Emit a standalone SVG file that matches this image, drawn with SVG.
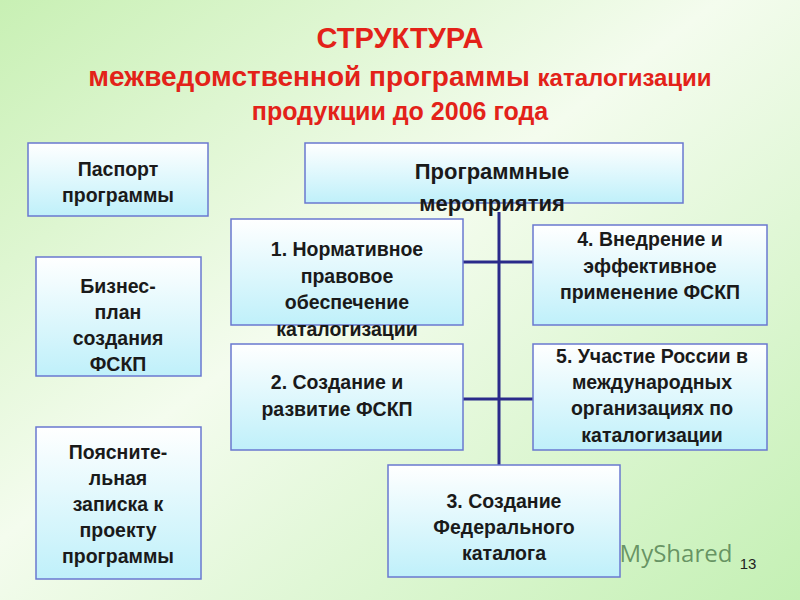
<svg xmlns="http://www.w3.org/2000/svg" width="800" height="600" viewBox="0 0 800 600">
<defs>
<linearGradient id="bg" x1="0" y1="0" x2="1" y2="1"><stop offset="0" stop-color="#c8f0b4"/><stop offset="0.45" stop-color="#f4fcee"/><stop offset="1" stop-color="#c4f0b4"/></linearGradient>
<linearGradient id="bx" x1="0" y1="0" x2="0" y2="1"><stop offset="0" stop-color="#ffffff"/><stop offset="1" stop-color="#bff0fa"/></linearGradient>
</defs>
<style>
.b{fill:url(#bx);stroke:#6a78d0;stroke-width:1.5}
.t{font-family:"Liberation Sans",Arial,sans-serif;font-weight:bold;font-size:19.5px;fill:#1a1a1a;text-anchor:middle}
.big{font-size:22px}
.h{font-family:"Liberation Sans",Arial,sans-serif;font-weight:bold;fill:#e32219;text-anchor:middle}
.c{stroke:#2a2a8a;stroke-width:3;fill:none}
</style>
<rect width="800" height="600" fill="url(#bg)"/>
<text class="h" x="400" y="48" font-size="29">СТРУКТУРА</text>
<text class="h" x="400" y="86" font-size="28">межведомственной программы <tspan font-size="24">каталогизации</tspan></text>
<text class="h" x="400" y="120" font-size="25">продукции до 2006 года</text>
<g id="connectors">
<line class="c" x1="499" y1="212" x2="499" y2="466"/>
<line class="c" x1="463" y1="262" x2="533" y2="262"/>
<line class="c" x1="463" y1="399" x2="533" y2="399"/>
</g>
<g id="pasport"><rect class="b" x="28" y="143" width="180" height="73"/><text class="t" x="118" y="176">Паспорт</text><text class="t" x="118" y="202">программы</text></g>
<g id="biznes"><rect class="b" x="36" y="257" width="165" height="119"/><text class="t" x="118" y="293">Бизнес-</text><text class="t" x="118" y="319">план</text><text class="t" x="118" y="345">создания</text><text class="t" x="118" y="371">ФСКП</text></g>
<g id="poyasn"><rect class="b" x="36" y="427" width="165" height="152"/><text class="t" x="118" y="459">Поясните-</text><text class="t" x="118" y="485">льная</text><text class="t" x="118" y="511">записка к</text><text class="t" x="118" y="537">проекту</text><text class="t" x="118" y="563">программы</text></g>
<g id="meropr"><rect class="b" x="305" y="143" width="378" height="60"/><text class="t big" x="492" y="179">Программные</text><text class="t big" x="492" y="211">мероприятия</text></g>
<g id="n1"><rect class="b" x="231" y="219" width="232" height="106"/><text class="t" x="347" y="256">1. Нормативное</text><text class="t" x="347" y="283">правовое</text><text class="t" x="347" y="309">обеспечение</text><text class="t" x="347" y="336">каталогизации</text></g>
<g id="n4"><rect class="b" x="533" y="225" width="234" height="100"/><text class="t" x="650" y="246">4. Внедрение и</text><text class="t" x="650" y="273">эффективное</text><text class="t" x="650" y="299">применение ФСКП</text></g>
<g id="n2"><rect class="b" x="231" y="344" width="232" height="106"/><text class="t" x="337" y="389">2. Создание и</text><text class="t" x="337" y="416">развитие ФСКП</text></g>
<g id="n5"><rect class="b" x="533" y="344" width="234" height="106"/><text class="t" x="652" y="363">5. Участие России в</text><text class="t" x="652" y="389">международных</text><text class="t" x="652" y="415">организациях по</text><text class="t" x="652" y="442">каталогизации</text></g>
<g id="n3"><rect class="b" x="388" y="465" width="232" height="112"/><text class="t" x="504" y="508">3. Создание</text><text class="t" x="504" y="534">Федерального</text><text class="t" x="504" y="560">каталога</text></g>
<text x="676" y="562" font-family="'Open Sans',sans-serif" font-size="24" fill="#3a6a3a" fill-opacity="0.7" text-anchor="middle">MyShared</text>
<text x="748" y="569" font-family="'Liberation Sans',sans-serif" font-size="15" fill="#222" text-anchor="middle">13</text>
</svg>
